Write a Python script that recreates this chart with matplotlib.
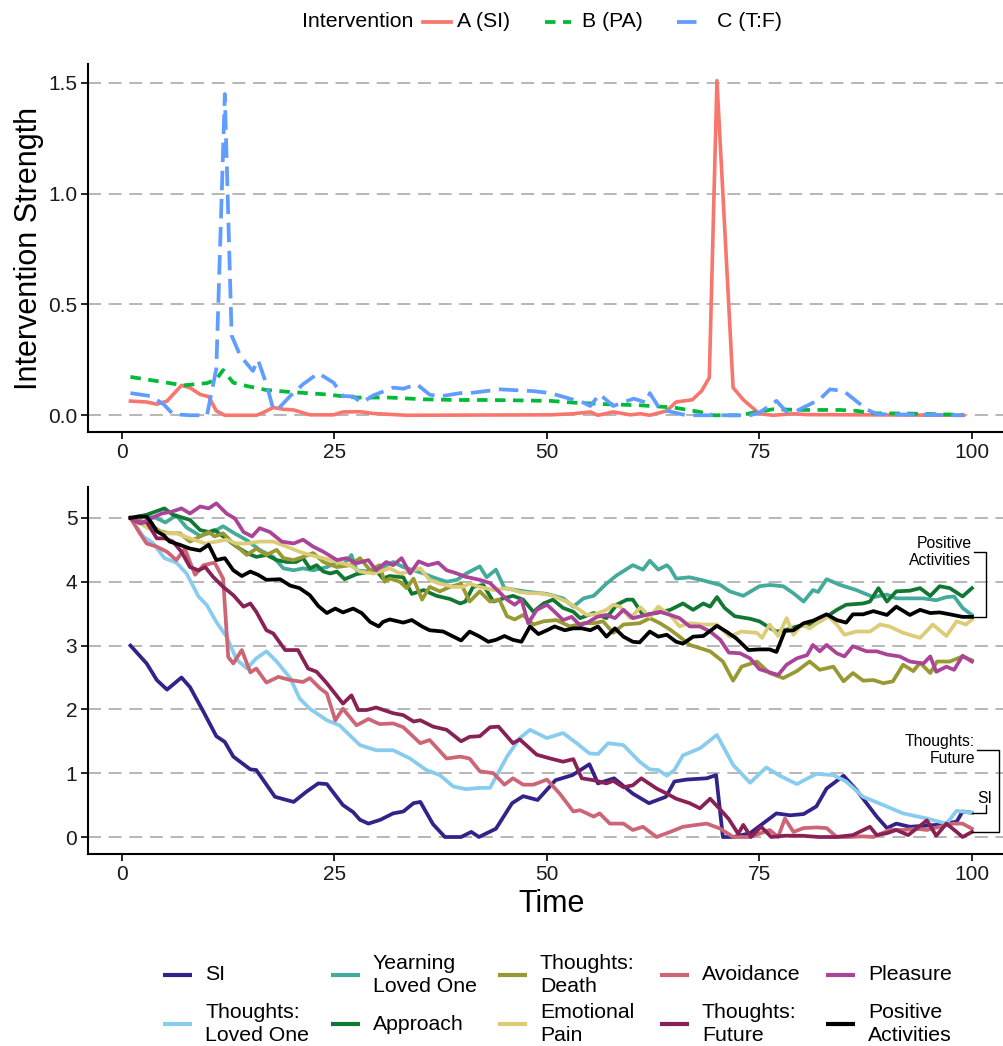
import matplotlib
matplotlib.use('Agg')
import matplotlib.pyplot as plt
from matplotlib.lines import Line2D

plt.rcParams['font.family'] = ['Liberation Sans', 'DejaVu Sans']

# ---------------- intervention strengths (top panel) ----------------
a_t = [1, 2.9, 4.1, 5.3, 7, 8, 9.2, 10.2, 11.1, 12.1, 15.8, 16.6, 17.8, 19, 20.2, 22.1, 24.9, 26, 28, 29.6,
       33.5, 50.4, 53.1, 55.1, 56, 57.8, 59.8, 61, 62.1, 64.1, 65.2, 67.1, 68.2, 69.1, 70, 71.9, 73.1, 75,
       76.6, 79, 80.5, 99]
a_v = [0.064, 0.06, 0.05, 0.064, 0.135, 0.124, 0.094, 0.084, 0.02, 0.0, 0.0, 0.012, 0.035, 0.027, 0.024,
       0.002, 0.002, 0.015, 0.016, 0.008, 0.0, 0.002, 0.007, 0.015, 0.0, 0.015, 0.002, 0.007, 0.0, 0.02,
       0.06, 0.07, 0.11, 0.17, 1.51, 0.125, 0.07, 0.007, 0.0, 0.007, 0.003, 0.0]

b_t = [1, 5.3, 7.2, 10, 11.1, 11.9, 13.1, 14.7, 17, 19.8, 23.7, 27.6, 31.5, 35.5, 39.4, 43.3, 50.4, 53.1,
       57, 61, 64.9, 68, 69.6, 72.7, 74.3, 76.6, 80.5, 84.5, 86.4, 88.4, 92.3, 99]
b_v = [0.173, 0.147, 0.135, 0.145, 0.162, 0.204, 0.147, 0.132, 0.114, 0.105, 0.095, 0.08, 0.08, 0.072,
       0.069, 0.069, 0.065, 0.057, 0.05, 0.045, 0.035, 0.015, 0.0, 0.0, 0.012, 0.027, 0.024, 0.024, 0.02,
       0.009, 0.008, 0.002]

c_t = [1, 3.3, 4.9, 6, 8, 10, 11.1, 12.1, 12.9, 13.9, 15.4, 16, 17, 17.8, 18.4, 19.8, 21.3, 23.1, 24.9,
       26, 27.2, 28.2, 29.6, 31.9, 33.1, 34.7, 36.2, 37.4, 39.8, 40.9, 44.5, 48.4, 50.4, 54.3, 55.1, 56.2,
       57.8, 60.2, 61.7, 62.1, 63.3, 66.4, 73.9, 75, 77, 78.2, 79.4, 82.1, 83.3, 84.9, 87.6, 88.8, 99]
c_v = [0.1, 0.087, 0.05, 0.005, 0.0, 0.0, 0.21, 1.45, 0.36, 0.27, 0.2, 0.25, 0.14, 0.027, 0.03, 0.087,
       0.14, 0.19, 0.147, 0.087, 0.085, 0.057, 0.09, 0.125, 0.12, 0.14, 0.093, 0.085, 0.1, 0.1, 0.117,
       0.109, 0.1, 0.057, 0.042, 0.095, 0.042, 0.075, 0.057, 0.1, 0.027, 0.0, 0.0, 0.012, 0.065, 0.015,
       0.02, 0.072, 0.117, 0.11, 0.027, 0.005, 0.0]

interventions = ['A (SI)', 'B (PA)', 'C (T:F)']

# ---------------- symptom trajectories (bottom panel) ----------------
si_t = [1, 2.9, 4.1, 5.3, 7, 8, 9.6, 11.1, 12.1, 13.1, 15.1, 15.8, 18, 20.2, 21.7, 23.1, 24.1, 26, 27.2,
        28, 29, 30.4, 31.9, 33.1, 34.3, 35.1, 36.6, 38, 39.9, 41.1, 42, 44, 45.9, 47.2, 48.9, 51, 53, 55,
        56, 57.9, 60.1, 62, 64, 65, 66.4, 68.8, 69.9, 70.7, 71.9, 73.9, 77, 78.6, 80.2, 81.7, 82.9, 84.9,
        86.4, 88.8, 90, 91.1, 92.7, 95.8, 98.2, 98.9, 100]
si_v = [3.0, 2.72, 2.46, 2.31, 2.5, 2.35, 1.96, 1.58, 1.49, 1.26, 1.06, 1.05, 0.63, 0.55, 0.71, 0.84,
        0.83, 0.5, 0.39, 0.27, 0.21, 0.27, 0.37, 0.4, 0.53, 0.55, 0.2, 0.0, 0.0, 0.08, 0.0, 0.13, 0.53,
        0.64, 0.58, 0.89, 0.97, 1.14, 0.84, 0.92, 0.68, 0.53, 0.63, 0.87, 0.9, 0.92, 0.97, 0.0, 0.0, 0.06,
        0.37, 0.34, 0.36, 0.48, 0.76, 0.96, 0.74, 0.32, 0.14, 0.21, 0.16, 0.19, 0.24, 0.4, 0.38]

tlo_t = [1, 2.5, 3.7, 5, 6.4, 7.6, 9, 10, 11.1, 12.3, 13.5, 14.7, 15.8, 17, 18.2, 19.8, 20.9, 22.1, 24.1,
         25.6, 28, 29.9, 31.9, 33.9, 35.8, 37.4, 39, 40.5, 42.1, 43.3, 45.3, 46.8, 48, 50, 51.9, 53.5, 55,
         56, 57.2, 59, 60.9, 62.1, 63.1, 64.1, 65, 66, 68, 70, 71.9, 73.9, 75.8, 77.4, 79.4, 81.7, 83.7,
         85.2, 87.2, 89.6, 91.9, 94.7, 97, 98.2, 100]
tlo_v = [5.0, 4.71, 4.6, 4.37, 4.3, 4.13, 3.77, 3.63, 3.37, 3.14, 2.78, 2.64, 2.8, 2.91, 2.75, 2.49,
         2.17, 2.01, 1.83, 1.75, 1.44, 1.36, 1.36, 1.23, 1.05, 0.97, 0.79, 0.75, 0.77, 0.77, 1.26, 1.55,
         1.68, 1.55, 1.63, 1.47, 1.31, 1.3, 1.47, 1.44, 1.18, 1.06, 1.05, 0.96, 1.05, 1.28, 1.39, 1.6,
         1.13, 0.85, 1.09, 0.96, 0.83, 0.99, 0.97, 0.87, 0.63, 0.5, 0.37, 0.29, 0.21, 0.41, 0.38]

ylo_t = [1, 2.5, 4, 5.1, 6.4, 7.6, 9.2, 10.7, 11.9, 13.1, 14.7, 16.2, 17.8, 19, 20.2, 21.3, 22.5, 24.1,
         25.3, 26, 27, 27.6, 29, 30.3, 31.9, 33.1, 34.3, 35.5, 36.6, 38.2, 39.4, 40.5, 42.1, 42.9, 44, 45,
         46.4, 47.9, 50, 51.9, 53.1, 54.3, 55.5, 57, 58.2, 60.1, 61.3, 62.1, 63.1, 64.1, 64.5, 65.2, 66.8,
         68.4, 70.4, 71.5, 73.1, 75, 76.2, 77.8, 79, 80.2, 81.3, 81.9, 82.9, 84.5, 86.4, 88.4, 90, 91.1,
         92.7, 94.3, 95.8, 97, 97.9, 98.9, 100]
ylo_v = [5.0, 5.03, 5.0, 4.93, 5.04, 4.85, 4.72, 4.78, 4.87, 4.77, 4.65, 4.5, 4.39, 4.21, 4.18, 4.21,
         4.18, 4.23, 4.31, 4.26, 4.42, 4.18, 4.16, 4.2, 4.31, 4.23, 4.18, 4.13, 4.07, 4.0, 4.03, 4.13, 4.24,
         4.07, 4.19, 3.9, 3.87, 3.84, 3.81, 3.74, 3.61, 3.74, 3.78, 3.97, 4.1, 4.26, 4.19, 4.33, 4.19, 4.26,
         4.21, 4.05, 4.07, 4.02, 3.95, 3.85, 3.78, 3.93, 3.95, 3.93, 3.82, 3.69, 3.87, 3.84, 4.04, 3.95,
         3.87, 3.76, 3.8, 3.74, 3.74, 3.74, 3.71, 3.76, 3.77, 3.59, 3.48]

app_t = [1, 2.9, 5, 6, 8, 9.2, 10.2, 10.9, 11.9, 13.5, 14.7, 15.8, 17, 18.2, 19.4, 20.5, 21.3, 22.1, 22.9,
         23.7, 24.5, 25.3, 26.2, 27.6, 28.8, 29.9, 30.7, 31.5, 33.1, 34.1, 35.5, 37, 38.6, 39.8, 40.4,
         41.3, 42.5, 43.7, 44.9, 46, 47.2, 48.4, 49.6, 50.7, 51.9, 53.1, 53.9, 55.5, 57, 58.2, 59.4, 60.1,
         61.3, 62.9, 64.5, 66, 67.2, 68.4, 69.2, 70, 70.9, 72.1, 73.9, 75, 76.2, 77, 78.2, 79.4, 80.9,
         82.1, 84.1, 85.2, 87.2, 88, 89, 90, 91.1, 92.7, 93.9, 95.1, 96.2, 97.4, 98.9, 100]
app_v = [5.0, 5.05, 5.15, 5.05, 4.97, 4.81, 4.78, 4.81, 4.71, 4.55, 4.45, 4.39, 4.42, 4.34, 4.31, 4.31,
         4.37, 4.21, 4.26, 4.16, 4.13, 4.16, 4.04, 4.12, 4.15, 4.18, 4.05, 4.09, 4.07, 3.81, 3.87, 3.78,
         3.73, 3.66, 3.69, 3.92, 3.95, 3.69, 3.74, 3.78, 3.72, 3.53, 3.66, 3.72, 3.59, 3.53, 3.43, 3.51,
         3.43, 3.64, 3.72, 3.72, 3.48, 3.51, 3.56, 3.66, 3.56, 3.66, 3.61, 3.76, 3.59, 3.46, 3.42, 3.38,
         3.28, 3.22, 3.25, 3.3, 3.33, 3.38, 3.56, 3.64, 3.66, 3.69, 3.9, 3.69, 3.85, 3.86, 3.9, 3.78, 3.93,
         3.9, 3.77, 3.9]

tde_t = [1, 3.1, 4.5, 5.6, 6.8, 8, 9.2, 10.2, 10.9, 11.9, 13.1, 14.7, 15.8, 17, 18.2, 19, 20.2, 21.3, 22.5,
         23.7, 25.3, 26.8, 28, 29.2, 30.3, 30.9, 31.5, 32.7, 33.5, 34.3, 35.3, 36.2, 37.4, 38.6, 39.9,
         40.9, 42.1, 43.3, 44.4, 45.3, 46.2, 47.2, 48.4, 49.6, 51.1, 52.7, 54.3, 55.5, 56.6, 57.8, 59,
         60.9, 62.1, 63.3, 64.5, 65.6, 66.8, 69.2, 70.7, 71.9, 72.9, 74.7, 76.2, 77.8, 79.4, 80.9, 82.1,
         83.7, 84.9, 86, 87.2, 88.4, 89.6, 90.7, 91.9, 93.1, 93.9, 95.1, 95.9, 97.4, 98.9, 100]
tde_v = [5.0, 4.92, 4.79, 4.76, 4.76, 4.63, 4.71, 4.78, 4.71, 4.76, 4.6, 4.42, 4.52, 4.42, 4.5, 4.37,
         4.34, 4.39, 4.45, 4.31, 4.23, 4.26, 4.37, 4.18, 4.26, 4.0, 4.05, 4.0, 3.9, 4.05, 3.72, 3.92, 3.85,
         3.92, 3.97, 3.69, 3.85, 3.69, 3.72, 3.46, 3.41, 3.48, 3.33, 3.38, 3.4, 3.3, 3.35, 3.35, 3.38, 3.2,
         3.33, 3.35, 3.43, 3.35, 3.25, 3.14, 3.01, 2.91, 2.75, 2.45, 2.67, 2.75, 2.57, 2.49, 2.6, 2.75,
         2.62, 2.67, 2.44, 2.57, 2.45, 2.46, 2.41, 2.44, 2.7, 2.6, 2.73, 2.57, 2.75, 2.75, 2.83, 2.77]

emo_t = [1, 3.1, 4.9, 6.4, 8, 9.8, 11.1, 12.3, 13.5, 14.7, 16.2, 17.8, 19.4, 20.9, 22.1, 23.7, 25.3, 26.8,
         28, 29.6, 31.5, 32.7, 33.9, 35.1, 36.2, 37.4, 39, 40.1, 40.9, 42.1, 43.7, 45.3, 46.8, 48, 49.2,
         50.7, 52.3, 53.5, 54.7, 55.7, 57, 57.8, 58.6, 59.8, 61, 62.1, 63.1, 64.5, 65.6, 66.8, 68.4, 70,
         71.5, 72.9, 74.7, 75.3, 76.2, 77.2, 78.2, 79, 80, 80.9, 82.1, 83.1, 84.1, 85, 86.4, 88, 89.2,
         90.3, 91.9, 93.9, 95.4, 97, 98.2, 99.3, 100]
emo_v = [5.0, 4.84, 4.76, 4.76, 4.68, 4.6, 4.63, 4.66, 4.6, 4.6, 4.63, 4.63, 4.55, 4.47, 4.42, 4.37,
         4.31, 4.26, 4.16, 4.13, 4.21, 4.13, 4.16, 4.21, 4.03, 3.97, 3.92, 3.92, 3.97, 3.92, 3.87, 3.9,
         3.84, 3.82, 3.82, 3.78, 3.69, 3.59, 3.48, 3.49, 3.56, 3.64, 3.61, 3.43, 3.6, 3.45, 3.61, 3.48,
         3.3, 3.35, 3.33, 3.33, 3.14, 3.22, 3.2, 3.12, 3.33, 3.15, 3.43, 3.17, 3.33, 3.27, 3.38, 3.46,
         3.33, 3.17, 3.22, 3.22, 3.33, 3.3, 3.2, 3.12, 3.33, 3.15, 3.38, 3.33, 3.41]

avo_t = [1, 2.1, 2.9, 4.1, 5.3, 6.4, 7.4, 8, 8.6, 9.6, 10.9, 11.9, 12.5, 13.1, 14.1, 15.1, 15.8, 17, 18.4,
         19.8, 21.3, 22.1, 23.3, 24.1, 25.1, 26, 27.6, 29, 30.3, 31.9, 33.1, 35.1, 36.2, 38.2, 39.8, 40.9,
         42.1, 43.7, 45, 46, 47.2, 48.4, 50, 51.5, 53.1, 53.9, 55.5, 56.2, 57.4, 59, 60.1, 61.3, 62.9,
         64.5, 66, 67.6, 68.8, 70.4, 71.9, 73.9, 76.2, 77.2, 78, 79, 80.2, 81.7, 82.9, 84.1, 85.6, 87.2,
         88.4, 90.3, 91.9, 93.5, 94.7, 96.2, 97.8, 98.9, 100]
avo_v = [5.0, 4.76, 4.6, 4.55, 4.47, 4.34, 4.52, 4.31, 4.11, 4.26, 4.3, 4.05, 2.82, 2.72, 2.93, 2.58,
         2.64, 2.42, 2.51, 2.46, 2.43, 2.49, 2.33, 2.25, 1.83, 2.01, 1.75, 1.85, 1.77, 1.78, 1.72, 1.47,
         1.52, 1.23, 1.26, 1.23, 1.03, 1.0, 0.82, 0.92, 0.82, 0.82, 0.9, 0.68, 0.4, 0.42, 0.32, 0.37, 0.21,
         0.21, 0.11, 0.16, 0.0, 0.08, 0.16, 0.19, 0.21, 0.13, 0.0, 0.0, 0.11, 0.0, 0.29, 0.08, 0.14, 0.15,
         0.14, 0.0, 0.0, 0.01, 0.0, 0.11, 0.11, 0.13, 0.11, 0.16, 0.21, 0.21, 0.13]

tfu_t = [1, 2.1, 2.9, 4.1, 5, 6, 7, 8, 9, 9.8, 10.7, 11.9, 13.1, 14.3, 15.1, 15.8, 17, 17.8, 19.2, 20.7,
         21.9, 22.9, 24.1, 26, 27, 27.8, 28.8, 29.9, 31.9, 33.1, 34.3, 35.1, 36.6, 38.2, 39.9, 40.9, 42.1,
         43.3, 44.3, 46, 46.8, 48.8, 50.4, 51.9, 53.1, 54.1, 55.5, 57, 57.8, 59, 60.1, 61.1, 62.9, 64.1,
         65.2, 66.8, 68, 69.2, 70.4, 71.4, 72.5, 73.1, 74, 75.2, 76.4, 78, 80, 82, 84, 86, 88, 88.8, 90,
         91.1, 92.5, 94.7, 95.8, 97, 98.2, 98.9, 100]
tfu_v = [5.0, 4.92, 4.94, 4.68, 4.68, 4.63, 4.47, 4.23, 4.18, 4.23, 4.08, 3.92, 3.79, 3.61, 3.66, 3.53,
         3.24, 3.19, 2.93, 2.93, 2.64, 2.59, 2.41, 2.09, 2.22, 1.99, 1.99, 2.03, 1.94, 1.91, 1.81, 1.83,
         1.73, 1.68, 1.5, 1.57, 1.58, 1.72, 1.73, 1.47, 1.53, 1.29, 1.23, 1.18, 1.22, 0.92, 0.89, 0.84,
         0.88, 0.78, 0.81, 0.92, 0.76, 0.68, 0.6, 0.53, 0.45, 0.6, 0.43, 0.28, 0.05, 0.19, 0.0, 0.16, 0.0,
         0.02, 0.02, 0.0, 0.0, 0.03, 0.16, 0.03, 0.06, 0.11, 0.03, 0.26, 0.02, 0.21, 0.08, 0.0, 0.08]

ple_t = [1, 2.3, 3.5, 4.7, 5.9, 7, 8, 9.2, 10.2, 11.1, 12.3, 13.3, 14.3, 15.3, 16.2, 17.4, 18.8, 20.2,
         21.3, 22.5, 23.7, 25.3, 26.4, 27.6, 29, 29.9, 31.1, 31.9, 32.9, 33.9, 34.9, 36, 37.2, 38.2, 39.2,
         40.4, 42.1, 43.3, 44.3, 45.3, 46.2, 47, 47.8, 48.8, 50, 50.9, 51.9, 52.9, 53.9, 54.9, 55.9, 57,
         58, 59, 60.1, 61.7, 63.3, 64.5, 65.6, 66.8, 68, 69.2, 70.4, 71.4, 72.7, 73.9, 75, 76.2, 77.2, 78.2,
         79.4, 80.6, 81.3, 82.1, 82.9, 84.1, 85, 86, 87.6, 88.8, 90, 91.5, 92.7, 94.3, 95.1, 95.8, 97,
         97.9, 98.9, 100]
ple_v = [5.0, 4.92, 5.0, 5.07, 5.1, 5.15, 5.07, 5.18, 5.15, 5.23, 5.07, 4.99, 4.78, 4.71, 4.84, 4.78,
         4.63, 4.6, 4.66, 4.55, 4.47, 4.34, 4.37, 4.29, 4.34, 4.18, 4.31, 4.26, 4.37, 4.13, 4.32, 4.26, 4.3,
         4.18, 4.14, 4.08, 4.03, 3.98, 3.85, 3.72, 3.64, 3.72, 3.35, 3.56, 3.64, 3.53, 3.4, 3.45, 3.32,
         3.37, 3.45, 3.48, 3.43, 3.56, 3.43, 3.48, 3.53, 3.48, 3.43, 3.3, 3.3, 3.22, 3.09, 2.89, 2.88, 2.8,
         2.63, 2.58, 2.54, 2.7, 2.8, 2.85, 3.01, 2.91, 3.01, 2.88, 2.83, 2.99, 2.91, 2.91, 2.86, 2.83, 2.75,
         2.72, 2.83, 2.59, 2.67, 2.62, 2.84, 2.75]

pa_t = [1, 1.9, 2.9, 3.5, 4.1, 4.9, 5.6, 6.8, 8, 9.2, 10.2, 11.1, 12.1, 13.1, 14.1, 15.1, 16, 17, 18.6,
        19.8, 20.9, 22.1, 23.1, 24.1, 25.1, 26, 27.2, 28.2, 29.2, 30.2, 30.7, 31.5, 33.1, 34.1, 35.3, 36.2,
        37.8, 39, 39.9, 40.9, 42.1, 43.1, 44, 45, 46, 47, 48, 49, 50, 50.9, 52.1, 53.1, 54.1, 55.1, 56, 57,
        58, 59, 60.1, 60.9, 62.1, 63.1, 64.1, 65.2, 66, 67.2, 68.4, 70, 71.1, 72.3, 73.7, 75, 76.2, 77, 78,
        79, 80.2, 81.3, 82.9, 84.1, 85.2, 86, 87.2, 88.4, 90, 91.1, 92.7, 93.9, 95.1, 96.2, 97.4, 98.9, 100]
pa_v = [5.0, 5.02, 5.02, 4.92, 4.79, 4.73, 4.63, 4.58, 4.52, 4.49, 4.58, 4.34, 4.37, 4.18, 4.09, 4.16,
        4.11, 4.03, 4.04, 3.94, 3.9, 3.79, 3.62, 3.51, 3.58, 3.52, 3.58, 3.51, 3.37, 3.3, 3.37, 3.41, 3.36,
        3.4, 3.3, 3.24, 3.22, 3.14, 3.08, 3.22, 3.14, 3.06, 3.09, 3.15, 3.09, 3.06, 3.3, 3.18, 3.24, 3.3,
        3.24, 3.27, 3.27, 3.24, 3.3, 3.14, 3.27, 3.14, 3.06, 3.05, 3.22, 3.14, 3.17, 3.06, 3.03, 3.14, 3.15,
        3.31, 3.22, 3.11, 2.93, 2.94, 2.94, 2.9, 3.23, 3.24, 3.35, 3.39, 3.49, 3.4, 3.36, 3.49, 3.49, 3.54,
        3.48, 3.61, 3.48, 3.56, 3.51, 3.52, 3.49, 3.45, 3.45]

symptoms = ['SI', 'Thoughts:\nLoved One', 'Yearning\nLoved One', 'Approach', 'Thoughts:\nDeath',
            'Emotional\nPain', 'Avoidance', 'Thoughts:\nFuture', 'Pleasure', 'Positive\nActivities']
symptom_colors = ['#332288', '#88CCEE', '#44AA99', '#117733', '#999933',
                  '#DDCC77', '#CC6677', '#882255', '#AA4499', '#000000']
series = [(si_t, si_v), (tlo_t, tlo_v), (ylo_t, ylo_v), (app_t, app_v), (tde_t, tde_v),
          (emo_t, emo_v), (avo_t, avo_v), (tfu_t, tfu_v), (ple_t, ple_v), (pa_t, pa_v)]

# ---------------- figure layout (pixel based) ----------------
W, H = 1004, 1046
fig = plt.figure(figsize=(W / 100, H / 100), dpi=100)
fig.patch.set_facecolor('white')


def px_rect(left, top, right, bottom):
    return [left / W, 1 - bottom / H, (right - left) / W, (bottom - top) / H]


TICK_FS = 15
LAB_FS = 22


def style_axes(ax):
    for s in ['top', 'right']:
        ax.spines[s].set_visible(False)
    for s in ['left', 'bottom']:
        ax.spines[s].set_linewidth(1.5)
        ax.spines[s].set_color('black')
    ax.tick_params(axis='both', length=5, width=1.2, color='black', labelsize=TICK_FS,
                   labelcolor='#1a1a1a', pad=3)
    ax.yaxis.grid(True, color='#a3a3a3', linestyle=(0, (8.5, 5)), linewidth=1.1)
    ax.xaxis.grid(False)
    ax.set_axisbelow(True)
    ax.set_xlim(-3.95, 104.95)
    ax.set_xticks([0, 25, 50, 75, 100])


# top panel
ax1 = fig.add_axes(px_rect(88.4, 64, 1014, 432))
style_axes(ax1)
ax1.plot(a_t, a_v, color='#F8766D', lw=2.6)
ax1.plot(b_t, b_v, color='#00BA38', lw=2.7, linestyle=(0, (2.8, 2.0)))
ax1.plot(c_t, c_v, color='#619CFF', lw=2.7, linestyle=(0, (5.2, 2.3)))
ax1.set_ylim(-0.0755, 1.5855)
ax1.set_yticks([0.0, 0.5, 1.0, 1.5])
ax1.set_yticklabels(['0.0', '0.5', '1.0', '1.5'])
ax1.set_ylabel('Intervention Strength', fontsize=LAB_FS, labelpad=3)

# bottom panel
ax2 = fig.add_axes(px_rect(88.4, 486.7, 1014, 853.6))
style_axes(ax2)
for (t, v), col in zip(series, symptom_colors):
    ax2.plot(t, v, color=col, lw=2.7)
ax2.set_ylim(-0.26, 5.49)
ax2.set_yticks([0, 1, 2, 3, 4, 5])
ax2.set_xlabel('Time', fontsize=LAB_FS, labelpad=4)

# end-of-line labels with bracket connectors
ANN_FS = 11.3
pa_end = pa_v[-1]
ax2.text(99.95, 4.47, 'Positive\nActivities', ha='right', va='center', fontsize=ANN_FS,
         linespacing=1.15)
ax2.plot([100.2, 101.6, 101.6, 100.0], [4.47, 4.47, pa_end, pa_end], color='black', lw=1.0,
         clip_on=False)
tf_end = tfu_v[-1]
ax2.text(100.35, 1.36, 'Thoughts:\nFuture', ha='right', va='center', fontsize=ANN_FS,
         linespacing=1.15)
ax2.plot([100.55, 103.2, 103.2, 100.0], [1.36, 1.36, tf_end, tf_end], color='black', lw=1.0,
         clip_on=False)
si_end = si_v[-1]
ax2.text(101.5, 0.6, 'SI', ha='center', va='center', fontsize=ANN_FS)
ax2.plot([101.7, 101.7, 100.0], [0.5, si_end, si_end], color='black', lw=1.0, clip_on=False)

# top legend
LEG_FS = 15.3
ly = 1 - 21.7 / H
fig.text(302 / W, ly, 'Intervention', ha='left', va='center', fontsize=LEG_FS)
top_handles = [((423, 451), '#F8766D', '-'),
               ((545, 571), '#00BA38', (0, (2.8, 2.0))),
               ((677, 705), '#619CFF', (0, (5.2, 2.3)))]
top_text_x = [457, 582, 717]
for ((x0, x1), col, ls), tx, lab in zip(top_handles, top_text_x, interventions):
    fig.add_artist(Line2D([x0 / W, x1 / W], [ly, ly], color=col, lw=2.7, linestyle=ls,
                          transform=fig.transFigure))
    fig.text(tx / W, ly, lab, ha='left', va='center', fontsize=LEG_FS)

# bottom legend (5 columns x 2 rows, filled column-wise)
col_x = [163, 331, 498, 660, 826]
row_y = [975, 1024]
for i, (lab, col) in enumerate(zip(symptoms, symptom_colors)):
    cx = col_x[i // 2]
    cy = 1 - row_y[i % 2] / H
    fig.add_artist(Line2D([cx / W, (cx + 29) / W], [cy, cy], color=col, lw=3.0,
                          transform=fig.transFigure, solid_capstyle='butt'))
    fig.text((cx + 42) / W, cy, lab, ha='left', va='center', fontsize=LEG_FS, linespacing=1.25)

fig.savefig('out.png', dpi=100, facecolor='white')
